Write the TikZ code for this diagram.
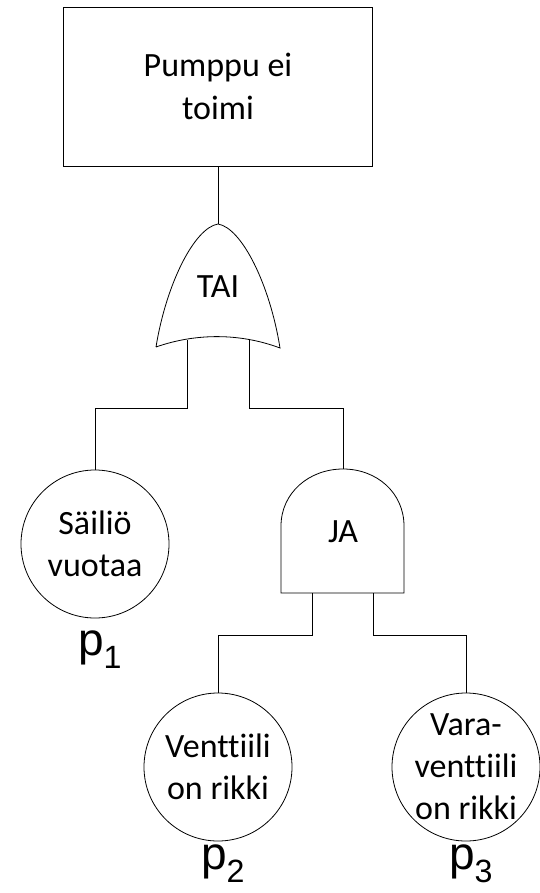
\documentclass[tikz,border=0pt]{standalone}
\usepackage{fontspec}
\setmainfont{Carlito}[Ligatures=NoCommon]
\newfontfamily\arialfont{Liberation Sans}
\begin{document}
\begin{tikzpicture}[x=1pt,y=-1pt,line width=0.8pt]
	\tikzset{
		event/.style={circle,draw,minimum size=148pt,inner sep=0pt,align=center,font=\fontsize{34}{42}\selectfont},
		gatetext/.style={font=\fontsize{34}{42}\selectfont},
		prob/.style={anchor=base,inner sep=0pt,font=\arialfont\fontsize{46}{50}\selectfont}
	}
	\useasboundingbox (0,0) rectangle (539,893);

	\draw (218,86.5) node (pump) [rectangle,draw,minimum width=309pt,minimum height=159pt,align=center,font=\fontsize{34}{43}\selectfont] {Pumppu ei\\toimi};

	% TAI-portti
	\coordinate (orTop) at (218,224);
	\coordinate (orIn1) at (187,340);
	\coordinate (orIn2) at (249,340);
	\draw (156,347) .. controls (166,285) and (194,228) .. (orTop) .. controls (242,228) and (270,285) .. (280,348) .. controls (240,333) and (196,333) .. (156,347);
	\node (tai) [gatetext] at (218,287) {TAI};

	% JA-portti
	\coordinate (andTop) at (343,469);
	\coordinate (andIn1) at (312,593);
	\coordinate (andIn2) at (373,593);
	\draw (281,593) -- (281,526) .. controls (281,493) and (309,469) .. (andTop) .. controls (377,469) and (404,493) .. (404,526) -- (404,593) -- cycle;
	\node (ja) [gatetext] at (343,532) {JA};

	\draw (95,544) node (leak) [event] {Säiliö\\vuotaa};
	\draw (218,767) node (valve) [event] {Venttiili\\on rikki};
	\draw (466,767) node (spare) [event] {Vara-\\venttiili\\on rikki};

	\draw (100,655) node (p1) [prob] {p\textsubscript{1}};
	\draw (223,869) node (p2) [prob] {p\textsubscript{2}};
	\draw (471,869) node (p3) [prob] {p\textsubscript{3}};

	\coordinate (bendL) at (187,408);
	\coordinate (bendR) at (249,408);
	\coordinate (bendA) at (312,635);
	\coordinate (bendB) at (373,635);

	\draw (pump.south) -- (orTop);
	\draw (orIn1) -- (bendL) -| (leak.north);
	\draw (orIn2) -- (bendR) -| (andTop);
	\draw (andIn1) -- (bendA) -| (valve.north);
	\draw (andIn2) -- (bendB) -| (spare.north);
\end{tikzpicture}
\end{document}
